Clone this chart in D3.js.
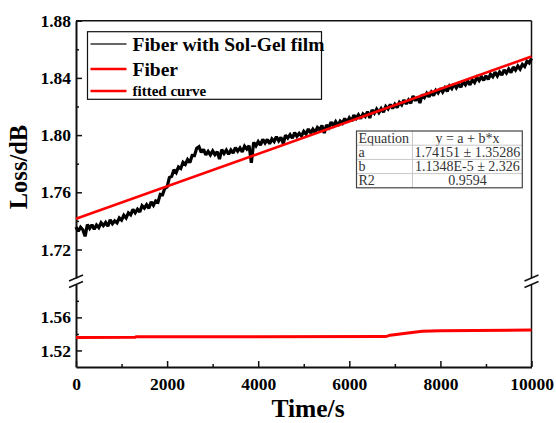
<!DOCTYPE html>
<html>
<head>
<meta charset="utf-8">
<script src="https://cdn.jsdelivr.net/npm/d3@7/dist/d3.min.js"></script>
<style>
  body { margin: 0; background: #fff; }
  svg { display: block; }
  text { font-family: "Liberation Serif", "Times New Roman", serif; }
</style>
</head>
<body>
<svg id="chart" width="556" height="423"></svg>
<script>
// sample times of the sol-gel trace, every 50 s from 0 to 10000
const solGelStep = 50;
// Fiber with Sol-Gel film, loss in dB
const solGelLoss = [
  1.7358, 1.7327, 1.7356, 1.7338, 1.7292, 1.7375, 1.7348, 1.7373, 1.7341, 1.7371,
  1.7353, 1.7387, 1.7367, 1.7389, 1.7363, 1.7408, 1.7380, 1.7400, 1.7386, 1.7420,
  1.7405, 1.7439, 1.7420, 1.7456, 1.7442, 1.7481, 1.7457, 1.7482, 1.7462, 1.7506,
  1.7489, 1.7513, 1.7488, 1.7533, 1.7509, 1.7540, 1.7531, 1.7586, 1.7583, 1.7628,
  1.7637, 1.7703, 1.7711, 1.7757, 1.7737, 1.7777, 1.7766, 1.7810, 1.7795, 1.7829,
  1.7809, 1.7857, 1.7856, 1.7908, 1.7919, 1.7879, 1.7900, 1.7862, 1.7886, 1.7861,
  1.7889, 1.7863, 1.7883, 1.7832, 1.7898, 1.7871, 1.7895, 1.7866, 1.7896, 1.7874,
  1.7913, 1.7888, 1.7910, 1.7883, 1.7922, 1.7902, 1.7926, 1.7806, 1.7949, 1.7925,
  1.7954, 1.7930, 1.7970, 1.7945, 1.7970, 1.7939, 1.7973, 1.7955, 1.7989, 1.7960,
  1.7985, 1.7941, 1.8000, 1.7979, 1.8003, 1.7978, 1.8017, 1.7991, 1.8013, 1.7994,
  1.8026, 1.8007, 1.8043, 1.8014, 1.8041, 1.8018, 1.8053, 1.8038, 1.8068, 1.8014,
  1.8071, 1.8052, 1.8090, 1.8067, 1.8094, 1.8066, 1.8098, 1.8083, 1.8116, 1.8090,
  1.8121, 1.8098, 1.8140, 1.8117, 1.8142, 1.8115, 1.8148, 1.8131, 1.8164, 1.8119,
  1.8176, 1.8153, 1.8182, 1.8157, 1.8185, 1.8161, 1.8200, 1.8183, 1.8214, 1.8187,
  1.8216, 1.8193, 1.8229, 1.8211, 1.8246, 1.8217, 1.8245, 1.8222, 1.8274, 1.8240,
  1.8267, 1.8224, 1.8283, 1.8264, 1.8292, 1.8267, 1.8300, 1.8277, 1.8313, 1.8295,
  1.8327, 1.8301, 1.8330, 1.8306, 1.8343, 1.8325, 1.8358, 1.8330, 1.8356, 1.8335,
  1.8374, 1.8352, 1.8379, 1.8351, 1.8386, 1.8368, 1.8403, 1.8381, 1.8409, 1.8383,
  1.8415, 1.8389, 1.8426, 1.8408, 1.8440, 1.8413, 1.8441, 1.8419, 1.8456, 1.8434,
  1.8462, 1.8437, 1.8476, 1.8455, 1.8483, 1.8461, 1.8494, 1.8479, 1.8516, 1.8504,
  1.8535
];

// bare Fiber
const fiberTime = [0, 1300, 1320, 6800, 6900, 7200, 7600, 8000, 10000];
const fiberLoss = [1.5358, 1.5360, 1.5366, 1.5368, 1.5385, 1.5405, 1.5433, 1.5438, 1.5446];

// fitted curve end points
const fitTime = [0, 10000];
const fitLoss = [1.74151, 1.8550];

const xTicks = [0, 2000, 4000, 6000, 8000, 10000];
const upperTicks = [1.72, 1.76, 1.80, 1.84, 1.88];
const lowerTicks = [1.52, 1.56];

const legendNames = ["Fiber with Sol-Gel film", "Fiber", "fitted curve"];
const tableRows = [
  ["Equation", "y = a + b*x"],
  ["a", "1.74151 \u00b1 1.35286"],
  ["b", "1.1348E-5 \u00b1 2.326"],
  ["R2", "0.9594"]
];

const svg = d3.select("#chart");
const pLeft = 76, pRight = 531.5, pTop = 20.7, pBottom = 367;

const x = d3.scaleLinear().domain([0, 10000]).range([pLeft, pRight]);
const yUp = d3.scaleLinear().domain([1.70, 1.88]).range([278.1, pTop]);
const yLow = d3.scaleLinear().domain([1.50, 1.60]).range([pBottom, 284.3]);

const axisColor = "#111";

// frame: top and right
svg.append("line").attr("x1", pLeft).attr("x2", pRight).attr("y1", pTop).attr("y2", pTop)
  .attr("stroke", axisColor).attr("stroke-width", 1.5);
svg.append("line").attr("x1", pRight).attr("x2", pRight).attr("y1", pTop).attr("y2", 278.5)
  .attr("stroke", axisColor).attr("stroke-width", 1.5);
svg.append("line").attr("x1", pRight).attr("x2", pRight).attr("y1", 284).attr("y2", pBottom)
  .attr("stroke", axisColor).attr("stroke-width", 1.5);

// left axis, upper part
const upAxis = svg.append("g").attr("transform", `translate(${pLeft},0)`)
  .call(d3.axisLeft(yUp).tickValues(upperTicks).tickFormat(d3.format(".2f"))
    .tickSizeInner(-6).tickSizeOuter(0).tickPadding(12));
const upMinor = svg.append("g").attr("transform", `translate(${pLeft},0)`)
  .call(d3.axisLeft(yUp).tickValues([1.74, 1.78, 1.82, 1.86]).tickFormat("")
    .tickSizeInner(-3).tickSizeOuter(0));

// left axis, lower part
const lowAxis = svg.append("g").attr("transform", `translate(${pLeft},0)`)
  .call(d3.axisLeft(yLow).tickValues(lowerTicks).tickFormat(d3.format(".2f"))
    .tickSizeInner(-6).tickSizeOuter(0).tickPadding(12));
const lowMinor = svg.append("g").attr("transform", `translate(${pLeft},0)`)
  .call(d3.axisLeft(yLow).tickValues([1.54, 1.58]).tickFormat("")
    .tickSizeInner(-3).tickSizeOuter(0));

// bottom axis
const xAxis = svg.append("g").attr("transform", `translate(0,${pBottom})`)
  .call(d3.axisBottom(x).tickValues(xTicks).tickFormat(d3.format("d"))
    .tickSizeInner(-6).tickSizeOuter(0).tickPadding(12));
const xMinor = svg.append("g").attr("transform", `translate(0,${pBottom})`)
  .call(d3.axisBottom(x).tickValues([1000, 3000, 5000, 7000, 9000]).tickFormat("")
    .tickSizeInner(-3).tickSizeOuter(0));

[upAxis, upMinor, lowAxis, lowMinor, xAxis, xMinor].forEach(g => {
  g.select(".domain").attr("stroke", axisColor).attr("stroke-width", 2);
  g.selectAll(".tick line").attr("stroke", axisColor).attr("stroke-width", 1.5);
  g.selectAll(".tick text").attr("font-family", "Liberation Serif")
    .attr("font-weight", "bold").attr("font-size", 17.5).attr("fill", "#000");
});
upAxis.selectAll(".tick text").attr("x", -5);
upMinor.select(".domain").remove();
lowMinor.select(".domain").remove();
xMinor.select(".domain").remove();
lowAxis.selectAll(".tick text").attr("x", -5);
xAxis.selectAll(".tick text").attr("y", 11);

// axis break marks
[[pLeft, 278], [pLeft, 284.5], [pRight, 278], [pRight, 284.5]].forEach(([bx, by]) => {
  svg.append("line").attr("x1", bx - 7).attr("y1", by + 3).attr("x2", bx + 7).attr("y2", by - 3)
    .attr("stroke", axisColor).attr("stroke-width", 1.5);
});

// data
const solGel = solGelLoss.map((v, i) => [i * solGelStep, v]);
svg.append("path").datum(solGel)
  .attr("d", d3.line().x(d => x(d[0])).y(d => yUp(d[1])))
  .attr("fill", "none").attr("stroke", "#000").attr("stroke-width", 3.2)
  .attr("stroke-linejoin", "miter").attr("stroke-miterlimit", 2);

const fit = fitTime.map((t, i) => [t, fitLoss[i]]);
svg.append("path").datum(fit)
  .attr("d", d3.line().x(d => x(d[0])).y(d => yUp(d[1])))
  .attr("fill", "none").attr("stroke", "#ff0000").attr("stroke-width", 2.5);

const fiber = fiberTime.map((t, i) => [t, fiberLoss[i]]);
svg.append("path").datum(fiber)
  .attr("d", d3.line().x(d => x(d[0])).y(d => yLow(d[1])))
  .attr("fill", "none").attr("stroke", "#ff0000").attr("stroke-width", 3);

// axis titles
svg.append("text").attr("x", 308).attr("y", 416.5)
  .attr("text-anchor", "middle").attr("font-weight", "bold").attr("font-size", 25.5)
  .text("Time/s");
svg.append("text").attr("transform", "translate(26.5,167) rotate(-90)")
  .attr("text-anchor", "middle").attr("font-weight", "bold").attr("font-size", 24.5)
  .text("Loss/dB");

// legend
const legend = svg.append("g");
legend.append("rect").attr("x", 87.5).attr("y", 31.7).attr("width", 234).attr("height", 67.6)
  .attr("fill", "#fff").attr("stroke", "#111").attr("stroke-width", 1.2);
const legendY = [44, 69, 91];
const legendColor = ["#333", "#ff0000", "#ff0000"];
const legendWidth = [1.3, 2.5, 2.5];
const legendSize = [19.5, 19.5, 15];
legendNames.forEach((name, i) => {
  legend.append("line").attr("x1", 90.5).attr("x2", 126.5).attr("y1", legendY[i]).attr("y2", legendY[i])
    .attr("stroke", legendColor[i]).attr("stroke-width", legendWidth[i]);
  legend.append("text").attr("x", 132.5).attr("y", legendY[i]).attr("dy", "0.35em")
    .attr("font-weight", "bold").attr("font-size", legendSize[i]).text(name);
});

// fit table
const tbl = svg.append("g");
const tx0 = 356.5, tx1 = 412.5, tx2 = 522.3, ty0 = 131, rowH = 14.2;
tableRows.forEach((row, i) => {
  const yy = ty0 + i * rowH;
  if (i > 0) {
    tbl.append("line").attr("x1", tx0).attr("x2", tx2).attr("y1", yy).attr("y2", yy)
      .attr("stroke", "#c8c8c8").attr("stroke-width", 1);
  }
  tbl.append("text").attr("x", tx0 + 2).attr("y", yy + rowH - 2.5)
    .attr("font-size", 14).attr("fill", "#333").text(row[0]);
  tbl.append("text").attr("x", (tx1 + tx2) / 2).attr("y", yy + rowH - 2.5)
    .attr("text-anchor", "middle").attr("font-size", 14).attr("fill", "#333").text(row[1]);
});
tbl.append("line").attr("x1", tx1).attr("x2", tx1).attr("y1", ty0).attr("y2", ty0 + 4 * rowH)
  .attr("stroke", "#c8c8c8").attr("stroke-width", 1);
tbl.append("rect").attr("x", tx0).attr("y", ty0).attr("width", tx2 - tx0).attr("height", 4 * rowH)
  .attr("fill", "none").attr("stroke", "#444").attr("stroke-width", 1.2);
</script>
</body>
</html>
